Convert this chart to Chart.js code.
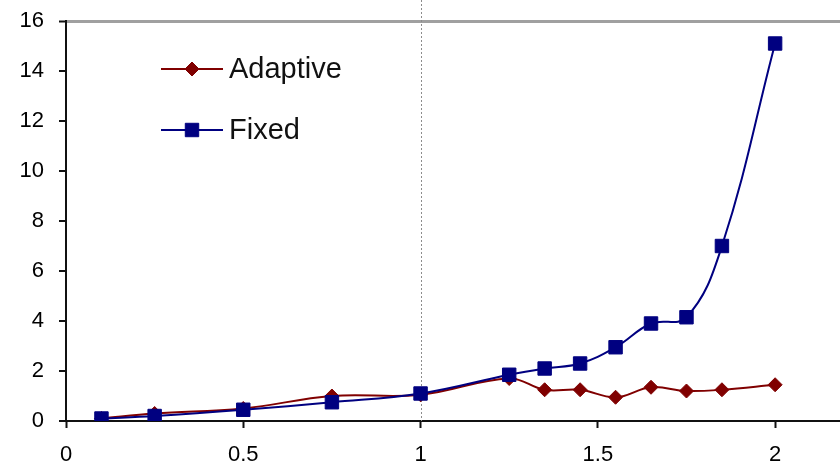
<!DOCTYPE html>
<html>
<head>
<meta charset="utf-8">
<style>
  html, body { margin: 0; padding: 0; background: #fff; }
  canvas { display: block; }
</style>
<script src="https://cdn.jsdelivr.net/npm/chart.js@4/dist/chart.umd.min.js"></script>
</head>
<body>
<canvas id="chart" width="840" height="468"></canvas>
<script>
// Load factor on the x axis, cost on the y axis
const xValues  = [0.1, 0.25, 0.5, 0.75, 1, 1.25, 1.35, 1.45, 1.55, 1.65, 1.75, 1.85, 2];
const adaptive = [0.1, 0.3, 0.5, 1.0, 1.05, 1.7, 1.25, 1.25, 0.95, 1.35, 1.2, 1.25, 1.45];
const fixed    = [0.1, 0.2, 0.45, 0.75, 1.1, 1.85, 2.1, 2.3, 2.95, 3.9, 4.15, 7.0, 15.1];
const seriesNames = ['Adaptive', 'Fixed'];
const xTickValues = [0, 0.5, 1, 1.5, 2];
const yTickValues = [0, 2, 4, 6, 8, 10, 12, 14, 16];

const RED = '#800000';
const NAVY = '#000080';
const FONT = '"Liberation Sans", Arial, sans-serif';

function toPoints(ys) {
  return xValues.map((x, i) => ({ x: x, y: ys[i] }));
}

// Dotted vertical reference line at x = 1
const refLine = {
  id: 'refLine',
  beforeDatasetsDraw(chart) {
    const { ctx, scales } = chart;
    const px = Math.round(scales.x.getPixelForValue(1)) + 0.5;
    ctx.save();
    ctx.strokeStyle = '#8c8c8c';
    ctx.lineWidth = 1;
    ctx.setLineDash([2, 2]);
    ctx.beginPath();
    ctx.moveTo(px, 0);
    ctx.lineTo(px, chart.chartArea.bottom);
    ctx.stroke();
    ctx.restore();
  }
};

function drawMarker(ctx, style, x, y, r, color) {
  ctx.fillStyle = color;
  ctx.strokeStyle = color;
  ctx.lineWidth = 1;
  ctx.beginPath();
  if (style === 'rect') {
    const s = r * Math.SQRT1_2;
    ctx.rect(x - s, y - s, 2 * s, 2 * s);
  } else {
    ctx.moveTo(x, y - r);
    ctx.lineTo(x + r, y);
    ctx.lineTo(x, y + r);
    ctx.lineTo(x - r, y);
    ctx.closePath();
  }
  ctx.fill();
  ctx.stroke();
}

// Legend with line-and-marker swatches inside the plot
const lineLegend = {
  id: 'lineLegend',
  afterDatasetsDraw(chart) {
    const { ctx } = chart;
    const rows = [69, 130];
    ctx.save();
    seriesNames.forEach((name, i) => {
      const ds = chart.data.datasets.find(d => d.label === name);
      const y = rows[i];
      ctx.strokeStyle = ds.borderColor;
      ctx.lineWidth = 2;
      ctx.beginPath();
      ctx.moveTo(161, y);
      ctx.lineTo(223, y);
      ctx.stroke();
      drawMarker(ctx, ds.pointStyle, 192, y, ds.pointRadius, ds.backgroundColor);
      ctx.fillStyle = '#111';
      ctx.font = '29px ' + FONT;
      ctx.textBaseline = 'alphabetic';
      ctx.textAlign = 'left';
      ctx.fillText(name, 229, y + 9);
    });
    ctx.restore();
  }
};

new Chart(document.getElementById('chart'), {
  type: 'line',
  data: {
    datasets: [
      {
        label: seriesNames[0],
        data: toPoints(adaptive),
        borderColor: RED,
        backgroundColor: RED,
        borderWidth: 2,
        tension: 0.4,
        pointStyle: 'rectRot',
        pointRadius: 7,
        pointBorderWidth: 1,
        order: 1
      },
      {
        label: seriesNames[1],
        data: toPoints(fixed),
        borderColor: NAVY,
        backgroundColor: NAVY,
        borderWidth: 2,
        tension: 0.4,
        pointStyle: 'rect',
        pointRadius: 9.5,
        pointBorderWidth: 1,
        order: 0
      }
    ]
  },
  options: {
    responsive: false,
    animation: false,
    devicePixelRatio: 1,
    layout: { autoPadding: false, padding: { top: 21, right: 0, bottom: 0, left: 0 } },
    plugins: {
      legend: { display: false },
      tooltip: { enabled: false }
    },
    scales: {
      x: {
        type: 'linear',
        min: 0,
        max: 2.183,
        afterBuildTicks(scale) { scale.ticks = xTickValues.map(v => ({ value: v })); },
        afterFit(scale) {
          scale.height = 47;
          scale.paddingLeft = 0;
          scale.paddingRight = 0;
        },
        border: { display: true, color: '#111', width: 2 },
        grid: {
          drawOnChartArea: false,
          drawTicks: true,
          tickLength: 7,
          tickColor: '#111',
          tickWidth: 2
        },
        ticks: {
          padding: 14,
          color: '#000',
          font: { family: FONT, size: 22 },
          maxRotation: 0,
          callback: v => String(v)
        }
      },
      y: {
        type: 'linear',
        min: 0,
        max: 16,
        afterBuildTicks(scale) { scale.ticks = yTickValues.map(v => ({ value: v })); },
        afterFit(scale) {
          scale.width = 66;
          scale.paddingTop = 0;
          scale.paddingBottom = 0;
        },
        border: { display: true, color: '#111', width: 2 },
        grid: {
          color: c => (c.tick && c.tick.value === 16 ? '#a0a0a0' : 'rgba(0,0,0,0)'),
          lineWidth: c => (c.tick && c.tick.value === 16 ? 3 : 0),
          drawTicks: true,
          tickLength: 7,
          tickColor: '#111',
          tickWidth: 2
        },
        ticks: {
          padding: 15,
          color: '#000',
          font: { family: FONT, size: 22 },
          callback: v => String(v)
        }
      }
    }
  },
  plugins: [refLine, lineLegend]
});
</script>
</body>
</html>
